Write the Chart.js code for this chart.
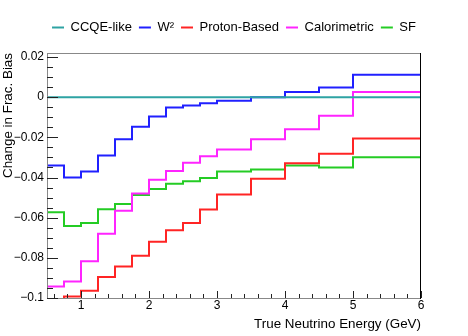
<!DOCTYPE html>
<html>
<head>
<meta charset="utf-8">
<script src="https://cdn.jsdelivr.net/npm/chart.js@4/dist/chart.umd.min.js"></script>
<style>
  html, body { margin: 0; padding: 0; background: #fff; }
  #wrap { width: 468px; height: 336px; }
</style>
</head>
<body>
<div id="wrap"><canvas id="chartCanvas" width="468" height="336"></canvas></div>
<script>
// bin edges of the histograms (GeV)
const binEdges = [0.5, 0.75, 1.0, 1.25, 1.5, 1.75, 2.0, 2.25, 2.5, 2.75, 3.0, 3.5, 4.0, 4.5, 5.0, 6.0];

// change in fractional bias per bin
const ccqeLike     = [0, 0, 0, 0, 0, 0, 0, 0, 0, 0, 0, 0, 0, 0, 0];
const w2           = [-0.034, -0.040, -0.037, -0.029, -0.021, -0.0147, -0.0096, -0.0051, -0.0042, -0.0030, -0.0018, 0.0, 0.0026, 0.0048, 0.0112];
const protonBased  = [-0.104, -0.0993, -0.0964, -0.0896, -0.0843, -0.0789, -0.0720, -0.0663, -0.0627, -0.0559, -0.0484, -0.0406, -0.0329, -0.0282, -0.0206];
const calorimetric = [-0.0943, -0.0918, -0.0817, -0.0680, -0.0566, -0.0480, -0.0411, -0.0367, -0.0327, -0.0294, -0.0261, -0.0210, -0.0160, -0.0093, 0.0026];
const sfModel      = [-0.0573, -0.0642, -0.0627, -0.0558, -0.0532, -0.0487, -0.0457, -0.0431, -0.0419, -0.0403, -0.0370, -0.0360, -0.0340, -0.0350, -0.0299];

const xTicks = [1, 2, 3, 4, 5, 6];
const yTicks = [-0.1, -0.08, -0.06, -0.04, -0.02, 0, 0.02];
const yTickLabels = ['\u22120.1', '\u22120.08', '\u22120.06', '\u22120.04', '\u22120.02', '0', '0.02'];

const FONT = 'Liberation Sans, Arial, Helvetica, sans-serif';

// histogram as step line: one point per low edge + last upper edge
function steps(vals) {
  return binEdges.map((x, i) => ({ x: x, y: vals[Math.min(i, vals.length - 1)] }));
}

function series(label, vals, color) {
  return {
    label: label,
    data: steps(vals),
    borderColor: color,
    backgroundColor: color,
    borderWidth: 2,
    stepped: 'before',
    pointRadius: 0,
    pointStyle: 'line',
    fill: false,
    clip: 0
  };
}

// ROOT-like frame with inward major/minor ticks
const frameTicks = {
  id: 'frameTicks',
  afterDatasetsDraw(chart) {
    const { ctx, chartArea: { left, right, top, bottom }, scales: { x, y } } = chart;
    ctx.save();
    ctx.lineWidth = 1;
    ctx.strokeStyle = '#888';
    ctx.beginPath();
    ctx.moveTo(left + 0.5, top + 0.5);
    ctx.lineTo(right, top + 0.5);
    ctx.moveTo(left + 0.5, top);
    ctx.lineTo(left + 0.5, bottom + 0.5);
    ctx.lineTo(right, bottom + 0.5);
    ctx.stroke();
    ctx.strokeStyle = '#000';
    ctx.beginPath();
    ctx.moveTo(right - 0.5, top);
    ctx.lineTo(right - 0.5, bottom + 1);
    ctx.stroke();

    ctx.strokeStyle = '#222';
    ctx.beginPath();
    for (let k = -20; k <= 4; k++) {
      const v = k * 0.005;
      const py = Math.round(y.getPixelForValue(v)) + 0.5;
      const len = (k % 4 === 0) ? 11 : 6;
      ctx.moveTo(left, py);
      ctx.lineTo(left + len, py);
    }
    for (let k = 3; k <= 30; k++) {
      const v = k * 0.2;
      const px = Math.round(x.getPixelForValue(v)) + 0.5;
      const len = (k % 5 === 0) ? 7 : 4;
      ctx.moveTo(px, bottom);
      ctx.lineTo(px, bottom - len);
    }
    ctx.stroke();
    ctx.restore();
  }
};

// keep the legend band a fixed height so the frame starts where it should
const legendBand = {
  id: 'legendBand',
  beforeLayout(chart) {
    const lg = chart.legend;
    if (lg && !lg._bandWrapped) {
      const fit = lg.fit;
      lg.fit = function () { fit.call(this); this.height = 39; };
      lg._bandWrapped = true;
    }
  }
};

const ctx = document.getElementById('chartCanvas').getContext('2d');

const myChart = new Chart(ctx, {
  type: 'line',
  data: {
    datasets: [
      series('CCQE-like', ccqeLike, '#2ea3a3'),
      series('W\u00b2', w2, '#2020ff'),
      series('Proton-Based', protonBased, '#ff2424'),
      series('Calorimetric', calorimetric, '#ff24ff'),
      series('SF', sfModel, '#24cc24')
    ]
  },
  options: {
    responsive: false,
    animation: false,
    layout: { padding: { left: 0, right: 0, top: 14, bottom: 0 } },
    plugins: {
      legend: {
        position: 'top',
        labels: {
          color: '#000',
          font: { family: FONT, size: 13 },
          usePointStyle: true,
          pointStyle: 'line',
          pointStyleWidth: 12,
          boxHeight: 13,
          padding: 7
        }
      },
      tooltip: { enabled: false }
    },
    scales: {
      x: {
        type: 'linear',
        min: 0.5,
        max: 6,
        afterBuildTicks: (scale) => { scale.ticks = xTicks.map(v => ({ value: v })); },
        afterFit: (scale) => { scale.height = 38; },
        grid: { display: false, drawTicks: false },
        border: { display: false },
        ticks: {
          color: '#000',
          font: { family: FONT, size: 12 },
          padding: 0,
          maxRotation: 0,
          callback: (v) => String(v)
        },
        title: {
          display: true,
          text: 'True Neutrino Energy (GeV)',
          align: 'end',
          color: '#000',
          font: { family: FONT, size: 13.4 },
          padding: { top: 0, bottom: 4 }
        }
      },
      y: {
        type: 'linear',
        min: -0.1,
        max: 0.022,
        afterBuildTicks: (scale) => { scale.ticks = yTicks.map(v => ({ value: v })); },
        afterFit: (scale) => { scale.width = 47; },
        grid: { display: false, drawTicks: false },
        border: { display: false },
        ticks: {
          color: '#000',
          font: { family: FONT, size: 12 },
          padding: 3,
          callback: (v, i) => yTickLabels[i]
        },
        title: {
          display: true,
          text: 'Change in Frac. Bias',
          align: 'end',
          color: '#000',
          font: { family: FONT, size: 13.4 },
          padding: { top: 0, bottom: 0 }
        }
      },
      // empty right margin axis, keeps the legend centred on the whole canvas
      yRight: {
        type: 'linear',
        position: 'right',
        display: true,
        afterFit: (scale) => { scale.width = 47; },
        grid: { display: false, drawTicks: false },
        border: { display: false },
        ticks: { display: false }
      }
    }
  },
  plugins: [frameTicks, legendBand]
});
</script>
</body>
</html>
